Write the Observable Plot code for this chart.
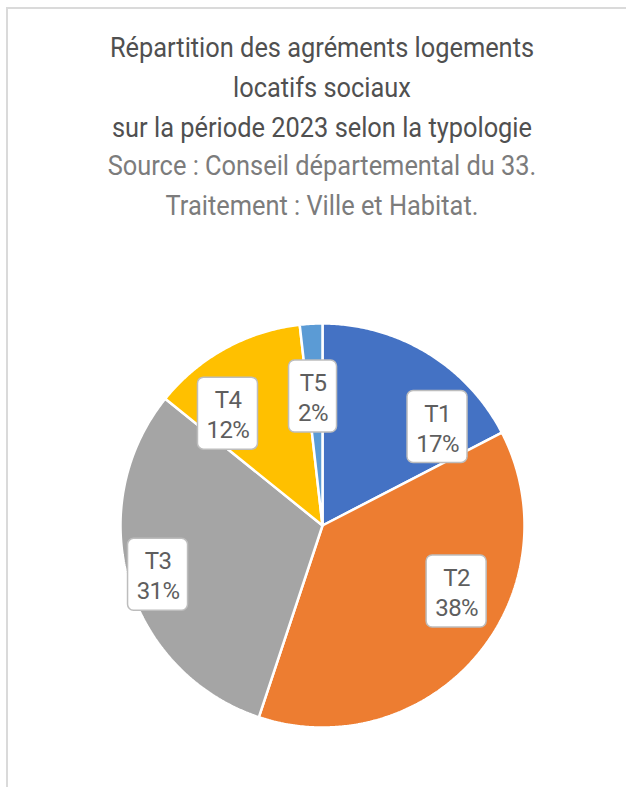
<!DOCTYPE html>
<html>
<head>
<meta charset="utf-8">
<script src="https://cdn.jsdelivr.net/npm/d3@7"></script>
<script src="https://cdn.jsdelivr.net/npm/@observablehq/plot@0.6"></script>
<style>
  html, body { margin: 0; padding: 0; background: #fff; }
  body { width: 626px; height: 787px; overflow: hidden; position: relative; }
  #frame { position: absolute; left: 6px; top: 7px; right: -10px; bottom: -10px;
           border-top: 2px solid #dadada; border-left: 2px solid #dadada; }
  #titles { position: absolute; left: 0; top: 0; width: 644px; text-align: center;
            font-family: "Liberation Sans Narrow", "Arial Narrow", Roboto, sans-serif; }
  .t { position: absolute; left: 0; right: 0; font-size: 27px; line-height: 32px; white-space: nowrap;
       transform: scaleX(0.94); }
  .main { color: #505050; }
  .src { color: #7c7c7c; }
  #chart { position: absolute; left: 0; top: 230px; }
  #chart svg text { letter-spacing: -0.6px; }
</style>
</head>
<body>
<div id="frame"></div>
<div id="titles"></div>
<div id="chart"></div>
<script>
// ---- data ----
const titleLines = ["Répartition des agréments logements", "locatifs sociaux", "sur la période 2023 selon la typologie"];
const sourceLines = ["Source : Conseil départemental du 33.", "Traitement : Ville et Habitat."];
const categories = ["T1", "T2", "T3", "T4", "T5"];
const shares = [17.4, 37.7, 30.7, 12.4, 1.8];   // % of approvals
const sliceColors = ["#4472C4", "#ED7D31", "#A5A5A5", "#FFC000", "#5B9BD5"];
// label placement (angle in degrees clockwise from top, radius as fraction of pie radius)
const labelAngle = [49.4, 116.2, 253.3, 319.8, 355.8];
const labelRadius = [0.75, 0.74, 0.85, 0.725, 0.64];

// ---- titles ----
const titles = document.getElementById("titles");
const tops = [32, 72, 112, 150, 190];
[...titleLines.map(t => [t, "main"]), ...sourceLines.map(t => [t, "src"])].forEach(([txt, cls], i) => {
  const d = document.createElement("div");
  d.className = "t " + cls;
  d.style.top = tops[i] + "px";
  d.textContent = txt;
  titles.appendChild(d);
});

// ---- geometry from data ----
const total = d3.sum(shares);
let cum = 0;
const slicePts = [];
categories.forEach((c, i) => {
  const a0 = cum / total * 2 * Math.PI;
  cum += shares[i];
  const a1 = cum / total * 2 * Math.PI;
  slicePts.push({cat: c, x: 0, y: 0});
  const n = Math.max(2, Math.ceil((a1 - a0) / (Math.PI / 360)));
  for (let k = 0; k <= n; k++) {
    const a = a0 + (a1 - a0) * k / n;
    slicePts.push({cat: c, x: Math.sin(a), y: Math.cos(a)});
  }
});

const R = 202, cx = 322, cy = 295;
const labels = categories.map((c, i) => {
  const a = labelAngle[i] * Math.PI / 180;
  const txt = `${c}\n${Math.round(shares[i])}%`;
  const chars = Math.max(c.length, (Math.round(shares[i]) + "%").length);
  const w = (24 + 12 * chars) / R, h = 72 / R;
  const x = labelRadius[i] * Math.sin(a), y = labelRadius[i] * Math.cos(a);
  return {cat: c, txt, x, y, x1: x - w / 2, x2: x + w / 2, y1: y - h / 2, y2: y + h / 2};
});

const font = '"Liberation Sans Narrow", "Arial Narrow", Roboto, sans-serif';

const plot = Plot.plot({
  width: 626,
  height: 557,
  margin: 0,
  x: {domain: [-1, 1], range: [cx - R, cx + R], axis: null},
  y: {domain: [-1, 1], range: [cy + R, cy - R], axis: null},
  color: {domain: categories, range: sliceColors},
  style: {background: "transparent", fontFamily: font},
  marks: [
    Plot.line(slicePts, {x: "x", y: "y", z: "cat", fill: "cat", stroke: "white", strokeWidth: 2.5,
      strokeLinejoin: "miter", curve: "linear-closed"}),
    Plot.rect(labels, {x1: "x1", x2: "x2", y1: "y1", y2: "y2", fill: "white", stroke: "#bdbdbd",
      strokeWidth: 1.5, rx: 6}),
    Plot.text(labels, {x: "x", y: "y", text: "txt", fill: "#5e5e5e", fontSize: 24, lineHeight: 1.25,
      fontFamily: font})
  ]
});
document.getElementById("chart").appendChild(plot);
</script>
</body>
</html>
